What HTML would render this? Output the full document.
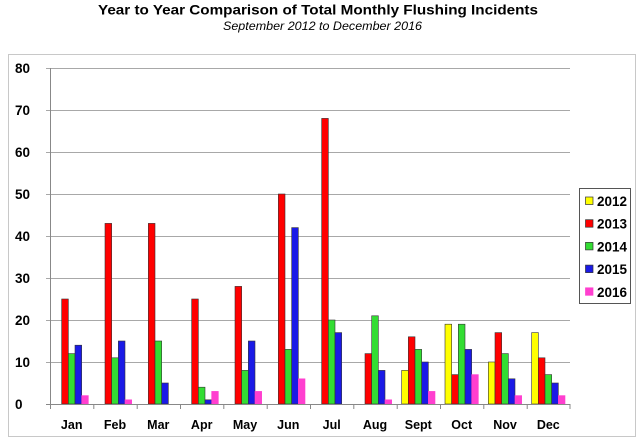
<!DOCTYPE html>
<html><head><meta charset="utf-8"><style>
html,body{margin:0;padding:0;background:#fff;}
svg{display:block;}
text{font-family:"Liberation Sans",Arial,sans-serif;fill:#000;}
</style></head><body>
<svg width="640" height="444" viewBox="0 0 640 444" xmlns="http://www.w3.org/2000/svg">
<rect x="0" y="0" width="640" height="444" fill="#fff"/>
<text x="318" y="14.5" font-size="14" font-weight="bold" text-anchor="middle" textLength="440" lengthAdjust="spacingAndGlyphs">Year to Year Comparison of Total Monthly Flushing Incidents</text>
<text x="322.5" y="30" font-size="12" font-style="italic" text-anchor="middle" textLength="199" lengthAdjust="spacingAndGlyphs">September 2012 to December 2016</text>
<rect x="8.5" y="54.5" width="627" height="382" fill="none" stroke="#c8c8c8" stroke-width="1"/>
<g stroke="#a8a8a8" stroke-width="1">
<line x1="46" y1="68.5" x2="570" y2="68.5"/>
<line x1="46" y1="110.5" x2="570" y2="110.5"/>
<line x1="46" y1="152.5" x2="570" y2="152.5"/>
<line x1="46" y1="194.5" x2="570" y2="194.5"/>
<line x1="46" y1="236.5" x2="570" y2="236.5"/>
<line x1="46" y1="278.5" x2="570" y2="278.5"/>
<line x1="46" y1="320.5" x2="570" y2="320.5"/>
<line x1="46" y1="362.5" x2="570" y2="362.5"/>
</g>
<g font-size="13.5" font-weight="bold">
<text x="15" y="73">80</text>
<text x="15" y="115">70</text>
<text x="15" y="157">60</text>
<text x="15" y="199">50</text>
<text x="15" y="241">40</text>
<text x="15" y="283">30</text>
<text x="15" y="325">20</text>
<text x="15" y="367">10</text>
<text x="15" y="409">0</text>
</g>
<g stroke="#333" stroke-width="0.6">
<!-- 2012 yellow -->
<g fill="#ffff00">
<rect x="401.67" y="370.4" width="6.67" height="33.6"/>
<rect x="445" y="324.2" width="6.67" height="79.8"/>
<rect x="488.33" y="362" width="6.67" height="42"/>
<rect x="531.67" y="332.6" width="6.67" height="71.4"/>
</g>
<!-- 2013 red -->
<g fill="#ff0000">
<rect x="61.67" y="299" width="6.67" height="105"/>
<rect x="105" y="223.4" width="6.67" height="180.6"/>
<rect x="148.33" y="223.4" width="6.67" height="180.6"/>
<rect x="191.67" y="299" width="6.67" height="105"/>
<rect x="235" y="286.4" width="6.67" height="117.6"/>
<rect x="278.33" y="194" width="6.67" height="210"/>
<rect x="321.67" y="118.4" width="6.67" height="285.6"/>
<rect x="365" y="353.6" width="6.67" height="50.4"/>
<rect x="408.33" y="336.8" width="6.67" height="67.2"/>
<rect x="451.67" y="374.6" width="6.67" height="29.4"/>
<rect x="495" y="332.6" width="6.67" height="71.4"/>
<rect x="538.33" y="357.8" width="6.67" height="46.2"/>
</g>
<!-- 2014 green -->
<g fill="#33dd33">
<rect x="68.33" y="353.6" width="6.67" height="50.4"/>
<rect x="111.67" y="357.8" width="6.67" height="46.2"/>
<rect x="155" y="341" width="6.67" height="63"/>
<rect x="198.33" y="387.2" width="6.67" height="16.8"/>
<rect x="241.67" y="370.4" width="6.67" height="33.6"/>
<rect x="285" y="349.4" width="6.67" height="54.6"/>
<rect x="328.33" y="320" width="6.67" height="84"/>
<rect x="371.67" y="315.8" width="6.67" height="88.2"/>
<rect x="415" y="349.4" width="6.67" height="54.6"/>
<rect x="458.33" y="324.2" width="6.67" height="79.8"/>
<rect x="501.67" y="353.6" width="6.67" height="50.4"/>
<rect x="545" y="374.6" width="6.67" height="29.4"/>
</g>
<!-- 2015 blue -->
<g fill="#1a1ae6">
<rect x="75" y="345.2" width="6.67" height="58.8"/>
<rect x="118.33" y="341" width="6.67" height="63"/>
<rect x="161.67" y="383" width="6.67" height="21"/>
<rect x="205" y="399.8" width="6.67" height="4.2"/>
<rect x="248.33" y="341" width="6.67" height="63"/>
<rect x="291.67" y="227.6" width="6.67" height="176.4"/>
<rect x="335" y="332.6" width="6.67" height="71.4"/>
<rect x="378.33" y="370.4" width="6.67" height="33.6"/>
<rect x="421.67" y="362" width="6.67" height="42"/>
<rect x="465" y="349.4" width="6.67" height="54.6"/>
<rect x="508.33" y="378.8" width="6.67" height="25.2"/>
<rect x="551.67" y="383" width="6.67" height="21"/>
</g>
<!-- 2016 pink -->
<g fill="#ff3fcf" stroke="#ff3fcf">
<rect x="81.67" y="395.6" width="6.67" height="8.4"/>
<rect x="125" y="399.8" width="6.67" height="4.2"/>
<rect x="211.67" y="391.4" width="6.67" height="12.6"/>
<rect x="255" y="391.4" width="6.67" height="12.6"/>
<rect x="298.33" y="378.8" width="6.67" height="25.2"/>
<rect x="385" y="399.8" width="6.67" height="4.2"/>
<rect x="428.33" y="391.4" width="6.67" height="12.6"/>
<rect x="471.67" y="374.6" width="6.67" height="29.4"/>
<rect x="515" y="395.6" width="6.67" height="8.4"/>
<rect x="558.33" y="395.6" width="6.67" height="8.4"/>
</g>
</g>
<g stroke="#888" stroke-width="1">
<line x1="50.5" y1="68" x2="50.5" y2="404"/>
<line x1="46" y1="404.5" x2="570" y2="404.5"/>
<line x1="50.5" y1="404" x2="50.5" y2="409"/>
<line x1="93.8" y1="404" x2="93.8" y2="409"/>
<line x1="137.2" y1="404" x2="137.2" y2="409"/>
<line x1="180.5" y1="404" x2="180.5" y2="409"/>
<line x1="223.8" y1="404" x2="223.8" y2="409"/>
<line x1="267.2" y1="404" x2="267.2" y2="409"/>
<line x1="310.5" y1="404" x2="310.5" y2="409"/>
<line x1="353.8" y1="404" x2="353.8" y2="409"/>
<line x1="397.2" y1="404" x2="397.2" y2="409"/>
<line x1="440.5" y1="404" x2="440.5" y2="409"/>
<line x1="483.8" y1="404" x2="483.8" y2="409"/>
<line x1="527.2" y1="404" x2="527.2" y2="409"/>
<line x1="570" y1="404" x2="570" y2="409"/>
</g>
<g font-size="12.5" font-weight="bold" text-anchor="middle">
<text x="71.7" y="429">Jan</text>
<text x="115" y="429">Feb</text>
<text x="158.3" y="429">Mar</text>
<text x="201.7" y="429">Apr</text>
<text x="245" y="429">May</text>
<text x="288.3" y="429">Jun</text>
<text x="331.7" y="429">Jul</text>
<text x="375" y="429">Aug</text>
<text x="418.3" y="429">Sept</text>
<text x="461.7" y="429">Oct</text>
<text x="505" y="429">Nov</text>
<text x="548.3" y="429">Dec</text>
</g>
<rect x="579.5" y="188.5" width="51" height="115" fill="#fff" stroke="#555" stroke-width="1"/>
<g stroke="#333" stroke-width="0.7">
<rect x="585.5" y="197" width="7.5" height="7.5" fill="#ffff00"/>
<rect x="585.5" y="219.7" width="7.5" height="7.5" fill="#ff0000"/>
<rect x="585.5" y="242.4" width="7.5" height="7.5" fill="#33dd33"/>
<rect x="585.5" y="265.1" width="7.5" height="7.5" fill="#1a1ae6"/>
<rect x="585.5" y="287.8" width="7.5" height="7.5" fill="#ff3fcf" stroke="#ff3fcf"/>
</g>
<g font-size="13.5" font-weight="bold">
<text x="597" y="206" textLength="30" lengthAdjust="spacingAndGlyphs">2012</text>
<text x="597" y="228.7" textLength="30" lengthAdjust="spacingAndGlyphs">2013</text>
<text x="597" y="251.4" textLength="30" lengthAdjust="spacingAndGlyphs">2014</text>
<text x="597" y="274.1" textLength="30" lengthAdjust="spacingAndGlyphs">2015</text>
<text x="597" y="296.8" textLength="30" lengthAdjust="spacingAndGlyphs">2016</text>
</g>
</svg>
</body></html>
